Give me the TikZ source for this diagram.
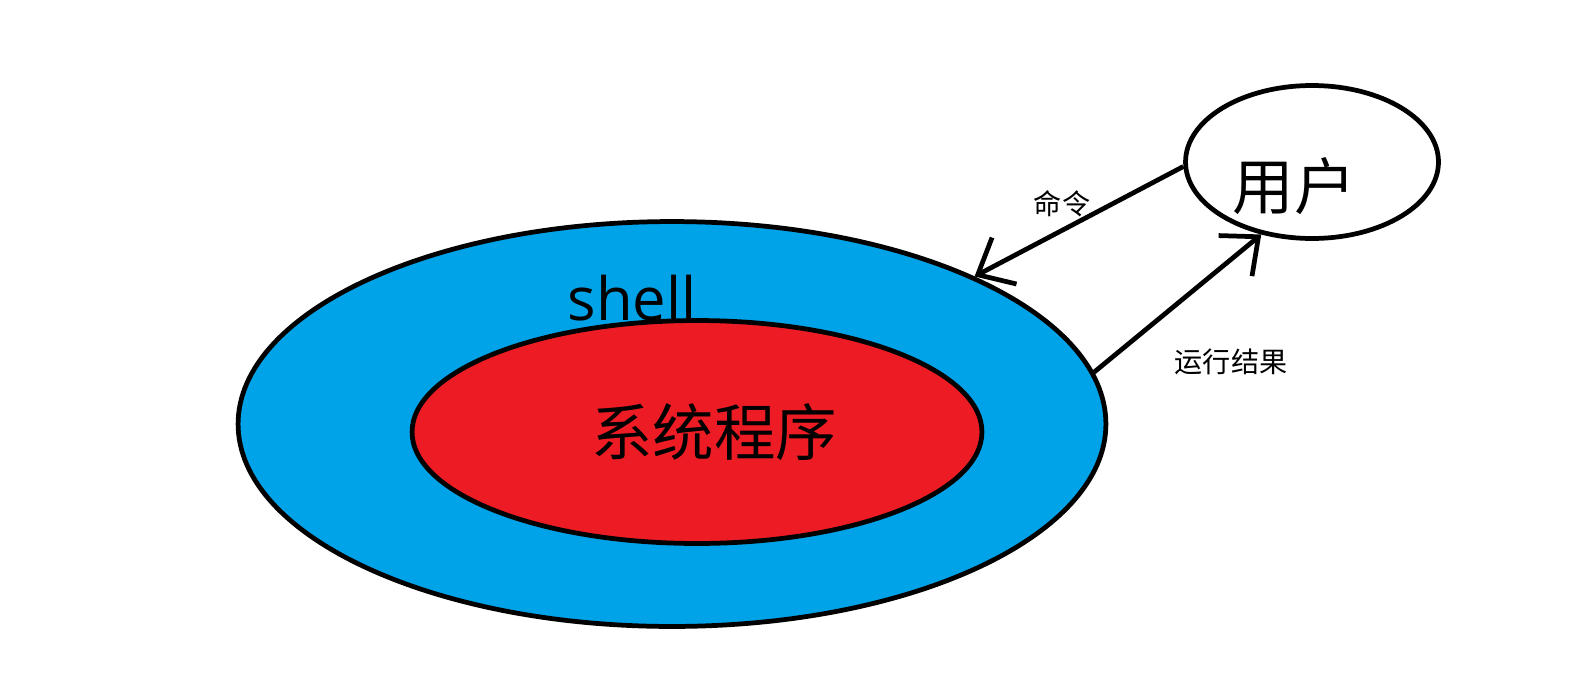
\documentclass[tikz,border=0pt]{standalone}
\usepackage{fontspec}
\setmainfont{Noto Sans CJK SC}
\newfontfamily\latinfont{Open Sans}
\usetikzlibrary{shapes.geometric,arrows.meta}

\definecolor{shellblue}{RGB}{0,162,232}
\definecolor{progred}{RGB}{237,28,36}

\tikzset{
  ring/.style={ellipse,draw=black,line width=2.7pt,inner sep=0pt},
  handarrow/.style={line width=2.7pt,-{Straight Barb[length=0.6cm,width=1.05cm,line width=2.7pt]}},
  bigtext/.style={font=\fontsize{35pt}{40pt}\selectfont},
  smalltext/.style={font=\fontsize{16pt}{18pt}\selectfont}
}

\begin{document}
\begin{tikzpicture}[x=0.02cm,y=-0.02cm]
            % Fix the page size
            \useasboundingbox (0,0) rectangle (1581,673);

            % Draw the rings
            \node[ring,fill=shellblue,minimum width=17.36cm,minimum height=8.1cm] (shell) at (672,424) {};
            \node[ring,fill=progred,minimum width=11.4cm,minimum height=4.46cm] (sysprog) at (697,432) {};
            \node[ring,fill=white,minimum width=5.06cm,minimum height=3.06cm] (user) at (1312,162) {};

            % Label the rings
            \node[bigtext] (shelllabel) at (632,298) {\latinfont\fontsize{34pt}{38pt}\selectfont shell};
            \node[bigtext] (sysproglabel) at (714,432) {系统程序};
            \node[bigtext] (userlabel) at (1294,186) {用户};

            % Draw command and result arrows
            \draw[handarrow] (user.182) -- (shell.26);
            \draw[handarrow] (shell.7) -- (user.235);

            % Label the arrows
            \node[smalltext] (cmdlabel) at (1062,204) {命令};
            \node[smalltext] (resultlabel) at (1231,362) {运行结果};
        \end{tikzpicture}
\end{document}
